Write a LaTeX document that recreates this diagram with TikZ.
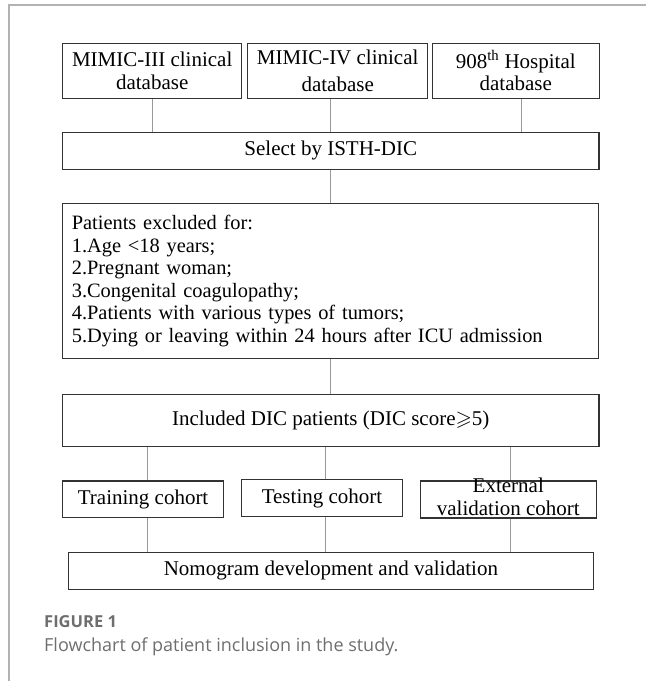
\documentclass[tikz,border=0pt]{standalone}
\usepackage{amssymb}
\usepackage{fontspec}
\setmainfont{Liberation Serif}
\newfontfamily\capfont{Open Sans}

\tikzset{
	box/.style={draw=black!80, line width=1.2pt, inner sep=0pt, align=center,
		font=\fontsize{21}{22.5}\selectfont},
	link/.style={draw=black!40, line width=0.8pt},
	captext/.style={anchor=base west, inner sep=0pt, text=black!57},
}

\begin{document}
\begin{tikzpicture}[x=1pt, y=-1pt]
	\useasboundingbox (0,0) rectangle (646,681);
	\draw[black!30, line width=1.2pt] (9,681) -- (9,5) -- (646,5);
	% sources
	\node[box, minimum width=179pt, minimum height=55pt]	(0)	at (152.2,70.8)	{MIMIC-III clinical\\database};
	\node[box, minimum width=180pt, minimum height=55pt]	(1)	at (337.7,70.8)	{MIMIC-IV clinical\\[5pt]database};
	\node[box, minimum width=167pt, minimum height=55pt]	(2)	at (515.8,70.8)	{908\textsuperscript{th} Hospital\\database};
	\node[box, minimum width=536.5pt, minimum height=36.6pt]	(3)	at (330.8,150.8)	{Select by ISTH-DIC};
	\node[box, align=left, text width=518pt, inner xsep=9pt, minimum height=155pt,
		font=\fontsize{20.4}{22.5}\selectfont]	(4)	at (330.8,281)
		{Patients excluded for:\\1.Age <18 years;\\2.Pregnant woman;\\3.Congenital coagulopathy;\\4.Patients with various types of tumors;\\5.Dying or leaving within 24 hours after ICU admission};
	\node[box, minimum width=536.5pt, minimum height=52.7pt]	(5)	at (330.8,420.5)	{Included DIC patients (DIC score$\geqslant$5)};
	% cohorts
	\node[box, minimum width=161pt, minimum height=36.7pt]	(6)	at (143.1,499.3)	{Training cohort};
	\node[box, minimum width=161pt, minimum height=37pt]	(7)	at (322,498)	{Testing cohort};
	\node[box, minimum width=176pt, minimum height=37pt]	(8)	at (508.3,499.5)
		{\raisebox{-0.25em}[0pt][0pt]{\begin{tabular}{@{}c@{}}External\\validation cohort\end{tabular}}};
	\node[box, minimum width=525pt, minimum height=37pt]	(9)	at (330.9,570.8)	{Nomogram development and validation};
	% links
	\coordinate (c0) at (521,0);
	\draw[link] (0.south) -- (0.south |- 3.north);
	\draw[link] (3.north) -- (3.north |- 1.south);
	\draw[link] (2.south -| c0) -- (3.north -| c0);
	\draw[link] (3.south) -- (4.north);
	\draw[link] (4.south) -- (5.north);
	\coordinate (c1) at (147,0);
	\coordinate (c2) at (325.5,0);
	\coordinate (c3) at (510,0);
	\draw[link] (5.south -| c1) -- (6.north -| c1);
	\draw[link] (6.south -| c1) -- (9.north -| c1);
	\draw[link] (5.south -| c2) -- (7.north -| c2);
	\draw[link] (7.south -| c2) -- (9.north -| c2);
	\draw[link] (5.south -| c3) -- (8.north -| c3);
	\draw[link] (8.south -| c3) -- (9.north -| c3);
	% caption
	\node[captext, font=\capfont\bfseries\fontsize{16.5}{18}\selectfont]	(10)	at (44,627.3)	{FIGURE 1};
	\node[captext, font=\capfont\fontsize{18}{22}\selectfont]	(11)	at (44,651)	{Flowchart of patient inclusion in the study.};
\end{tikzpicture}
\end{document}
